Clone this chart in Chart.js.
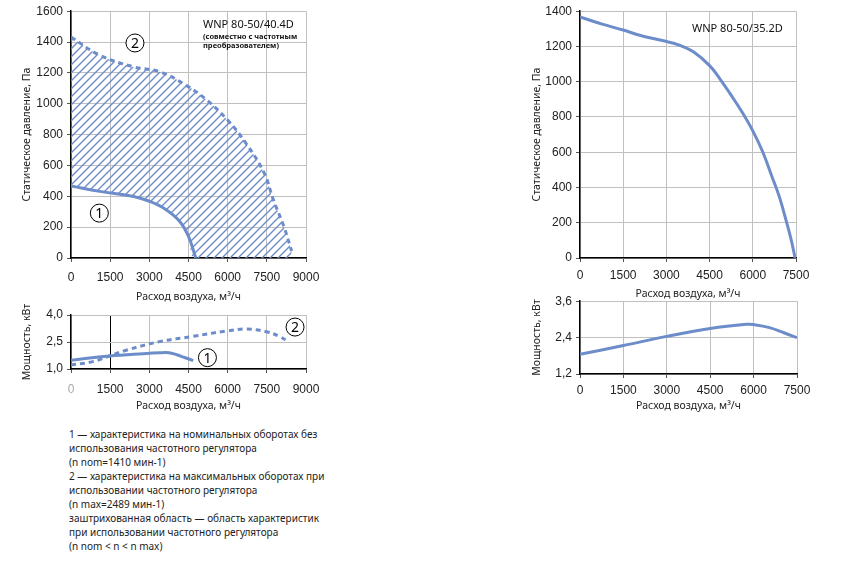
<!DOCTYPE html>
<html lang="ru">
<head>
    <meta charset="UTF-8">
    <title>WNP 80-50</title>
    <script src="https://cdn.jsdelivr.net/npm/chart.js"></script>
    <style>
        body { margin: 0; background: #fff; }
        canvas { position: absolute; }
        #notes {
            position: absolute; left: 69px; top: 427px;
            font: 10px "Noto Sans", sans-serif; line-height: 14px; color: #222;
        }
    </style>
</head>
<body>
    <canvas id="pressLeft" width="340" height="305" style="left:0;top:0"></canvas>
    <canvas id="powerLeft" width="340" height="115" style="left:0;top:300px"></canvas>
    <canvas id="pressRight" width="330" height="300" style="left:510px;top:0"></canvas>
    <canvas id="powerRight" width="330" height="125" style="left:510px;top:290px"></canvas>
    <div id="notes">
        1 — характеристика на номинальных оборотах без<br>
        использования частотного регулятора<br>
        (n nom=1410 мин-1)<br>
        2 — характеристика на максимальных оборотах при<br>
        использовании частотного регулятора<br>
        (n max=2489 мин-1)<br>
        заштрихованная область — область характеристик<br>
        при использовании частотного регулятора<br>
        (n nom &lt; n &lt; n max)
    </div>

    <script>
        // WNP 80-50/40.4D, curve 1 (nominal speed)
        const flowNom = [0, 1100, 2400, 3000, 3600, 4150, 4500, 4780];
        const pressNom = [467, 432, 399, 368, 318, 240, 140, 0];
        // WNP 80-50/40.4D, curve 2 (max speed, dashed)
        const flowMax = [0, 1100, 2400, 3400, 4400, 5200, 6000, 6700, 7400, 7750, 8150, 8450];
        const pressMax = [1433, 1315, 1239, 1207, 1121, 1024, 894, 744, 550, 377, 205, 45];

        // power, WNP 80-50/40.4D
        const powFlowNom = [0, 1470, 2750, 3400, 3750, 4050, 4350, 4680];
        const powNom = [1.49, 1.72, 1.85, 1.90, 1.90, 1.79, 1.64, 1.47];
        const powFlowMax = [0, 830, 1470, 2110, 3390, 4670, 5950, 6720, 7490, 8000, 8260];
        const powMax = [1.22, 1.41, 1.72, 2.04, 2.52, 2.81, 3.11, 3.22, 3.07, 2.80, 2.57];

        // WNP 80-50/35.2D
        const flowR = [0, 800, 1500, 2100, 2900, 3450, 3950, 4500, 4850, 5200, 5600, 6000, 6350, 6670, 6920, 7150, 7330, 7470];
        const pressR = [1367, 1325, 1293, 1262, 1232, 1208, 1168, 1091, 1018, 935, 835, 721, 600, 460, 348, 217, 105, 0];
        const powFlowR = [0, 1500, 3000, 4500, 5750, 6000, 6550, 7050, 7500];
        const powR = [1.85, 2.14, 2.44, 2.70, 2.84, 2.83, 2.73, 2.56, 2.40];

        const flowTicks9000 = [0, 1500, 3000, 4500, 6000, 7500, 9000];
        const flowTicks7500 = [0, 1500, 3000, 4500, 6000, 7500];

        const BLUE = '#6d8cca';
        const GRID = '#c0c0c0';
        const TICK_FONT = { family: 'Liberation Sans', size: 12 };
        const TITLE_FONT = { family: 'Noto Sans', size: 10.5 };
        const X_TITLE = 'Расход воздуха, м³/ч';

        const pts = (xs, ys) => xs.map((x, i) => ({ x: x, y: ys[i] }));
        const commaFmt = v => v.toFixed(1).replace('.', ',');

        // diagonal hatch for the regulated area
        function hatchPattern() {
            const c = document.createElement('canvas');
            c.width = 8; c.height = 8;
            const g = c.getContext('2d');
            g.strokeStyle = BLUE;
            g.lineWidth = 1.4;
            g.beginPath();
            g.moveTo(-2, 10); g.lineTo(10, -2);
            g.moveTo(-6, 6); g.lineTo(6, -6);
            g.moveTo(2, 14); g.lineTo(14, 2);
            g.stroke();
            return g.createPattern(c, 'repeat');
        }

        // numbered circles and captions inside the plot
        const marks = {
            id: 'marks',
            afterDatasetsDraw(chart, args, opts) {
                const { ctx, scales: { x, y }, chartArea } = chart;
                ctx.save();
                (opts.circles || []).forEach(c => {
                    const px = x.getPixelForValue(c.x), py = y.getPixelForValue(c.y);
                    ctx.beginPath();
                    ctx.arc(px, py, 9, 0, Math.PI * 2);
                    ctx.fillStyle = '#fff';
                    ctx.fill();
                    ctx.lineWidth = 1;
                    ctx.strokeStyle = '#000';
                    ctx.stroke();
                    ctx.fillStyle = '#000';
                    ctx.font = '14px "Noto Sans"';
                    ctx.textAlign = 'center';
                    ctx.textBaseline = 'middle';
                    ctx.fillText(c.label, px, py + 1);
                });
                (opts.texts || []).forEach(t => {
                    ctx.fillStyle = '#111';
                    ctx.font = t.font;
                    ctx.textAlign = 'left';
                    ctx.textBaseline = 'middle';
                    ctx.fillText(t.text, chartArea.left + t.dx, chartArea.top + t.dy);
                });
                ctx.restore();
            }
        };

        function axes(o) {
            return {
                x: {
                    type: 'linear', min: 0, max: o.xMax,
                    afterBuildTicks: s => { s.ticks = o.xTicks.map(v => ({ value: v })); },
                    afterFit: s => { s.height = o.xH; },
                    grid: { color: o.xGridColor || GRID, tickColor: '#555', tickLength: 4 },
                    border: { color: '#000', width: 1.5 },
                    ticks: { font: TICK_FONT, color: o.xTickColor || '#222', padding: o.xPad, maxRotation: 0,
                             callback: v => String(v) },
                    title: { display: true, text: X_TITLE, font: TITLE_FONT, color: '#222', padding: { top: 0, bottom: o.xTitlePad } }
                },
                y: {
                    type: 'linear', min: o.yMin, max: o.yMax,
                    afterBuildTicks: s => { s.ticks = o.yTicks.map(v => ({ value: v })); },
                    afterFit: s => { s.width = o.yW; },
                    grid: { color: GRID, tickColor: '#555', tickLength: 4 },
                    border: { color: '#000', width: 1.5 },
                    ticks: { font: TICK_FONT, color: '#222', padding: 4, callback: o.yFmt || (v => String(v)) },
                    title: { display: true, text: o.yTitle, font: TITLE_FONT, color: '#222', padding: { top: 21, bottom: 0 } }
                }
            };
        }

        function base(layout, scales, marksOpts) {
            return {
                animation: false,
                responsive: false,
                layout: { padding: layout },
                elements: { point: { radius: 0 }, line: { tension: 0.4 } },
                plugins: { legend: { display: false }, tooltip: { enabled: false }, marks: marksOpts },
                scales: scales
            };
        }

        // lower edge of the hatched area: curve 1, then the zero line up to the end of curve 2
        const lowerEdge = pts(flowNom, pressNom).concat([{ x: flowMax[flowMax.length - 1], y: 0 }]);

        new Chart(document.getElementById('pressLeft'), {
            type: 'line',
            data: {
                datasets: [
                    { data: pts(flowMax, pressMax), borderColor: BLUE, borderWidth: 3, borderDash: [5, 4],
                      fill: 1, backgroundColor: hatchPattern() },
                    { data: lowerEdge, borderWidth: 0, borderColor: 'rgba(0,0,0,0)', fill: false },
                    { data: pts(flowNom, pressNom), borderColor: BLUE, borderWidth: 3, fill: false }
                ]
            },
            options: base({ top: 11, right: 34, left: 0, bottom: 0 },
                axes({ xMax: 9000, xTicks: flowTicks9000, xH: 47, xPad: 8, xTitlePad: 2,
                       yMin: 0, yMax: 1600, yTicks: [0, 200, 400, 600, 800, 1000, 1200, 1400, 1600], yW: 71,
                       yTitle: 'Статическое давление, Па' }),
                { circles: [{ x: 2450, y: 1394, label: '2' }, { x: 1085, y: 291, label: '1' }],
                  texts: [{ text: 'WNP 80-50/40.4D', dx: 132, dy: 14, font: '11px "Noto Sans"' },
                          { text: '(совместно с частотным', dx: 132, dy: 26, font: 'bold 7.5px "Noto Sans"' },
                          { text: 'преобразователем)', dx: 132, dy: 35, font: 'bold 7.5px "Noto Sans"' }] }),
            plugins: [marks]
        });

        new Chart(document.getElementById('powerLeft'), {
            type: 'line',
            data: {
                datasets: [
                    { data: pts(powFlowMax, powMax), borderColor: BLUE, borderWidth: 3, borderDash: [5, 4], fill: false },
                    { data: pts(powFlowNom, powNom), borderColor: BLUE, borderWidth: 3, fill: false }
                ]
            },
            options: base({ top: 15, right: 34, left: 0, bottom: 0 },
                axes({ xMax: 9000, xTicks: flowTicks9000, xH: 46, xPad: 9, xTitlePad: 3,
                       xGridColor: c => (c.tick && c.tick.value === 1500 ? '#000' : GRID),
                       xTickColor: c => (c.tick && c.tick.value === 0 ? '#aaa' : '#222'),
                       yMin: 1, yMax: 4, yTicks: [1, 2.5, 4], yW: 71, yFmt: commaFmt,
                       yTitle: 'Мощность, кВт' }),
                { circles: [{ x: 5225, y: 1.63, label: '1' }, { x: 8580, y: 3.33, label: '2' }] }),
            plugins: [marks]
        });

        new Chart(document.getElementById('pressRight'), {
            type: 'line',
            data: {
                datasets: [
                    { data: pts(flowR, pressR), borderColor: BLUE, borderWidth: 3, fill: false }
                ]
            },
            options: base({ top: 10, right: 44, left: 0, bottom: 0 },
                axes({ xMax: 7500, xTicks: flowTicks7500, xH: 42, xPad: 6, xTitlePad: 0,
                       yMin: 0, yMax: 1400, yTicks: [0, 200, 400, 600, 800, 1000, 1200, 1400], yW: 70,
                       yTitle: 'Статическое давление, Па' }),
                { texts: [{ text: 'WNP 80-50/35.2D', dx: 112, dy: 18, font: '11px "Noto Sans"' }] }),
            plugins: [marks]
        });

        new Chart(document.getElementById('powerRight'), {
            type: 'line',
            data: {
                datasets: [
                    { data: pts(powFlowR, powR), borderColor: BLUE, borderWidth: 3, fill: false }
                ]
            },
            options: base({ top: 11, right: 43, left: 0, bottom: 0 },
                axes({ xMax: 7500, xTicks: flowTicks7500, xH: 41, xPad: 5, xTitlePad: 3,
                       yMin: 1.2, yMax: 3.6, yTicks: [1.2, 2.4, 3.6], yW: 70, yFmt: commaFmt,
                       yTitle: 'Мощность, кВт' }),
                {}),
            plugins: [marks]
        });
    </script>
</body>
</html>
